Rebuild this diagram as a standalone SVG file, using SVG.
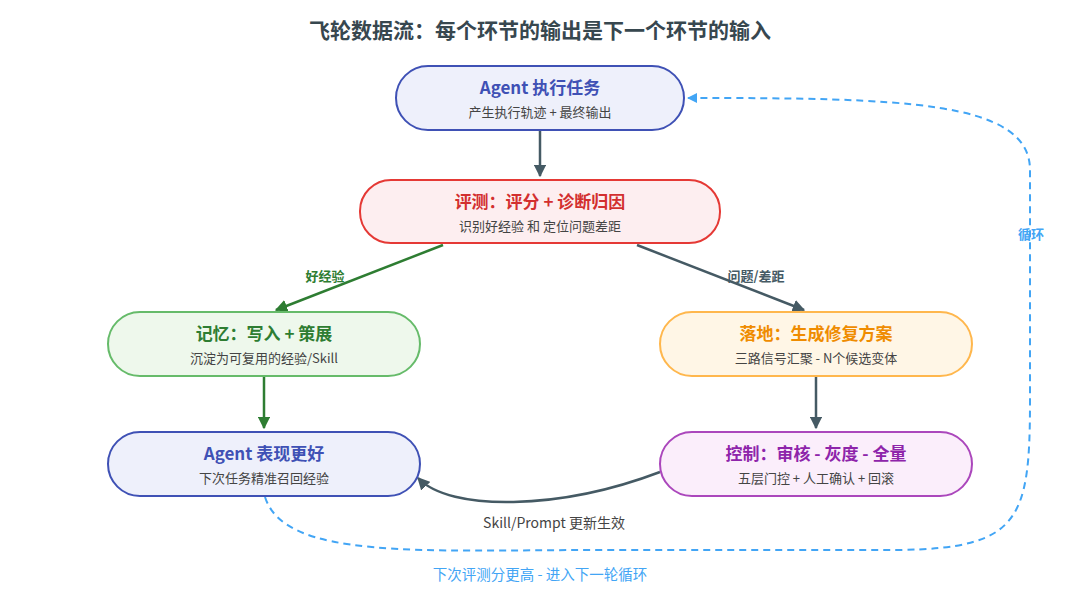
<svg xmlns="http://www.w3.org/2000/svg" width="1080" height="600" viewBox="0 0 1080 600">
<style>
text{font-family:"Noto Sans CJK SC","Noto Sans",sans-serif;text-anchor:middle}
.t{font-size:17px;font-weight:700}
.s{font-size:13px;fill:#444}
.l{font-size:13px;font-weight:700}
</style>
<defs>
<marker id="ag" viewBox="0 0 10 10" refX="9" refY="5" markerWidth="5" markerHeight="5" orient="auto"><path d="M0,0L10,5L0,10z" fill="#455a64"/></marker>
<marker id="ar" viewBox="0 0 10 10" refX="9" refY="5" markerWidth="5" markerHeight="5" orient="auto"><path d="M0,0L10,5L0,10z" fill="#2e7d32"/></marker>
<marker id="ab" viewBox="0 0 10 10" refX="9" refY="5" markerWidth="5" markerHeight="5" orient="auto"><path d="M0,0L10,5L0,10z" fill="#42a5f5"/></marker>
</defs>
<rect width="1080" height="600" fill="#fff"/>
<text x="540" y="38" style="font-size:21px;font-weight:700;fill:#37474f">飞轮数据流：每个环节的输出是下一个环节的输入</text>
<g id="connectors" fill="none" stroke-width="2.5">
<line x1="540" y1="130" x2="540" y2="176" stroke="#455a64" marker-end="url(#ag)"/>
<line x1="443" y1="245" x2="276" y2="310" stroke="#2e7d32" marker-end="url(#ar)"/>
<line x1="637" y1="245" x2="804" y2="310" stroke="#455a64" marker-end="url(#ag)"/>
<line x1="264" y1="376" x2="264" y2="428" stroke="#2e7d32" marker-end="url(#ar)"/>
<line x1="816" y1="376" x2="816" y2="428" stroke="#455a64" marker-end="url(#ag)"/>
<path d="M660,472 C560,510 450,512 418,478" stroke="#455a64" marker-end="url(#ag)"/>
<path d="M265,497 C285,560 420,550 600,550 L900,550 C1020,548 1030,520 1030,400 L1030,170 C1030,100 900,98 688,98" stroke="#42a5f5" stroke-dasharray="7,5" stroke-width="2" marker-end="url(#ab)"/>
<text x="325" y="281" class="l" fill="#2e7d32" stroke="none">好经验</text>
<text x="756" y="281" class="l" fill="#455a64" stroke="none">问题/差距</text>
<text x="554" y="528" class="s" style="font-size:14px" stroke="none">Skill/Prompt 更新生效</text>
<text x="540" y="580" class="s" style="fill:#42a5f5;font-size:14.5px" stroke="none">下次评测分更高 - 进入下一轮循环</text>
<text x="1031" y="239" class="l" fill="#42a5f5" stroke="none">循环</text>
</g>
<g id="n1"><rect x="396" y="66" width="288" height="64" rx="32" fill="#eef0fb" stroke="#3f51b5" stroke-width="2"/><text x="540" y="94" class="t" fill="#3f51b5">Agent 执行任务</text><text x="540" y="117" class="s">产生执行轨迹 + 最终输出</text></g>
<g id="n2"><rect x="360" y="180" width="360" height="63" rx="31" fill="#fdeef0" stroke="#e53935" stroke-width="2"/><text x="540" y="208" class="t" fill="#d32f2f">评测：评分 + 诊断归因</text><text x="540" y="231" class="s">识别好经验 和 定位问题差距</text></g>
<g id="n3"><rect x="108" y="312" width="312" height="64" rx="32" fill="#eef8ec" stroke="#66bb6a" stroke-width="2"/><text x="264" y="340" class="t" fill="#2e7d32">记忆：写入 + 策展</text><text x="264" y="363" class="s">沉淀为可复用的经验/Skill</text></g>
<g id="n4"><rect x="660" y="312" width="312" height="64" rx="32" fill="#fff6e6" stroke="#ffb74d" stroke-width="2"/><text x="816" y="340" class="t" fill="#ef8c00">落地：生成修复方案</text><text x="816" y="363" class="s">三路信号汇聚 - N个候选变体</text></g>
<g id="n5"><rect x="108" y="432" width="312" height="64" rx="32" fill="#eef0fb" stroke="#3f51b5" stroke-width="2"/><text x="264" y="460" class="t" fill="#3f51b5">Agent 表现更好</text><text x="264" y="483" class="s">下次任务精准召回经验</text></g>
<g id="n6"><rect x="660" y="432" width="312" height="64" rx="32" fill="#fbeefb" stroke="#ab47bc" stroke-width="2"/><text x="816" y="460" class="t" fill="#8e24aa">控制：审核 - 灰度 - 全量</text><text x="816" y="483" class="s">五层门控 + 人工确认 + 回滚</text></g>
</svg>
